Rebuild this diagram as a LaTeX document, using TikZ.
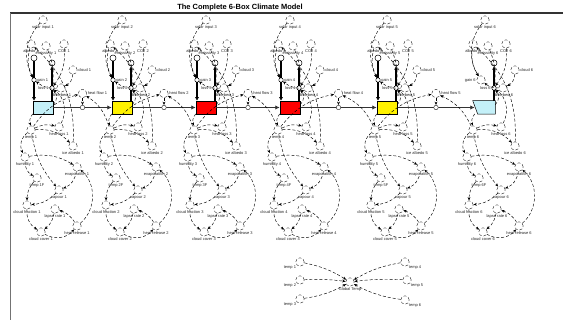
\documentclass[tikz,border=0pt]{standalone}
\usepackage{fontspec}
\setmainfont{Liberation Sans}
\usetikzlibrary{arrows.meta,calc}

\definecolor{boxcyan}{RGB}{196,240,248}

\tikzset{
  aux/.style={circle, draw=black!80, densely dashed, line width=0.45pt, minimum size=8.5pt, inner sep=0pt},
  lbl/.style={font=\fontsize{4}{4}\selectfont, inner sep=0.6pt, text=black!85, solid},
  link/.style={densely dashed, line width=0.45pt, -{Stealth[length=3.4pt,width=2.8pt]}},
  pipe/.style={line width=1.6pt, -{Latex[length=3.5pt,width=4pt]}},
  flowline/.style={line width=1.1pt, black!80, -{Latex[length=4.5pt,width=4.5pt]}},
  stock/.style={draw, line width=0.5pt, minimum width=20pt, minimum height=13pt, inner sep=0pt},
  src/.style={circle, draw, line width=0.5pt, minimum size=6pt, inner sep=0pt, fill=white},
  valve/.style={circle, draw, fill=white, line width=0.45pt, minimum size=4.5pt, inner sep=0pt}
}

\begin{document}
\begin{tikzpicture}[x=1pt, y=-1pt]
\useasboundingbox (0,0) rectangle (563,320);
% title and frame
\node[font=\bfseries\fontsize{7.5}{8}\selectfont] (title) at (240,8) {The Complete 6-Box Climate Model};
\draw[line width=1.4pt, black!80] (10,13) -- (563,13);
\draw[line width=0.8pt, black!55] (10,13) -- (10,320);

% one sector per box
\foreach \bx/\k/\col in {33/1/boxcyan, 112/2/yellow, 196/3/red, 280/4/red, 377/5/yellow, 475/6/boxcyan}{
  \ifnum\k<6
    \node[stock, fill=\col] (box\k) at (\bx+10,107.5) {};
  \else
    \node[stock, draw=none] (box\k) at (\bx+10,107.5) {};
    \draw[fill=\col, line width=0.5pt] ($(box\k.north west)+(-2,0)$) -- (box\k.north east)
      -- (box\k.south east) -- ($(box\k.south west)+(3,0)$) -- cycle;
  \fi
  % inputs above the stock
  \node[aux, label={[lbl]below:solar input \k}] (sun\k) at (\bx+10,20) {};
  \node[aux, label={[lbl]below:albedo \k}] (alb\k) at (\bx-2,44) {};
  \node[aux, label={[lbl]below:emissivity \k}] (emi\k) at (\bx+13,46) {};
  \node[aux, label={[lbl]below:CO2 \k}] (co\k) at (\bx+31,44) {};
  \node[aux, label={[lbl]right:cloud \k}] (cld\k) at (\bx+40,70) {};
  \node[aux, label={[lbl]below:absorbed \k}] (absb\k) at (\bx+28,88) {};
  \ifnum\k<6
    \node[src] (in\k) at (\bx+1,58) {};
    \node[valve, label={[lbl]right:gain \k}] (vin\k) at (\bx+1,80) {};
    \draw[pipe] (in\k) -- (vin\k) -- (in\k |- box\k.north);
  \else
    \node[aux, label={[lbl]left:gain \k}] (vin\k) at (\bx+6,80) {};
  \fi
  \node[src] (out\k) at (\bx+19,63) {};
  \node[valve, label={[lbl]left:loss \k}] (vout\k) at (\bx+19,88) {};
  \draw[pipe] (box\k.north -| out\k) -- (vout\k) -- (out\k);
  \draw[link] (sun\k) to[bend right=35] (vin\k);
  \draw[link] (alb\k) to[bend right=20] (vin\k);
  \draw[link] (emi\k) to[bend left=15] (vout\k);
  \draw[link] (co\k) to[bend left=20] (vout\k);
  \draw[link] (cld\k) to[bend left=30] (absb\k);
  \draw[link] (absb\k) to[bend left=20] (vin\k);
  \draw[link] (box\k) to[bend right=50] (vout\k);
  % feedbacks below the stock
  \node[aux, label={[lbl]below:temp \k}] (temp\k) at (\bx-2,130) {};
  \node[aux, label={[lbl]below:heat loss \k}] (hl\k) at (\bx+26,127) {};
  \node[aux, label={[lbl]below:ice albedo \k}] (ice\k) at (\bx+40,146) {};
  \node[aux, label={[lbl]below:humidity \k}] (hum\k) at (\bx-8,157) {};
  \node[aux, label={[lbl]below:evaporation \k}] (evap\k) at (\bx+44,167) {};
  \node[aux, label={[lbl]below:temp \k F}] (tf\k) at (\bx+4,178) {};
  \node[aux, label={[lbl]below:vapour \k}] (vap\k) at (\bx+26,190) {};
  \node[aux, label={[lbl]below:cloud fraction \k}] (cf\k) at (\bx-6,205) {};
  \node[aux, label={[lbl]below:lapse rate \k}] (lr\k) at (\bx+22,209) {};
  \node[aux, label={[lbl]below:cloud cover \k}] (cc\k) at (\bx+8,232) {};
  \node[aux, label={[lbl]below:heat release \k}] (rel\k) at (\bx+44,226) {};
  \draw[link] (box\k) to[bend right=30] (temp\k);
  \draw[link] (temp\k) to[bend left=20] (hl\k);
  \draw[link] (hl\k) to[bend right=40] (vout\k);
  \draw[link] (temp\k) to[bend right=40] (hum\k);
  \draw[link] (temp\k) to[bend left=25] (ice\k);
  \draw[link] (ice\k) to[bend right=25] (alb\k);
  \draw[link] (hum\k) to[bend right=30] (tf\k);
  \draw[link] (hum\k) to[bend left=20] (evap\k);
  \draw[link] (evap\k) to[bend left=30] (vap\k);
  \draw[link] (tf\k) to[bend right=20] (cf\k);
  \draw[link] (vap\k) to[bend left=20] (cf\k);
  \draw[link] (cf\k) to[bend right=30] (cc\k);
  \draw[link] (lr\k) to[bend left=20] (cc\k);
  \draw[link] (rel\k) to[bend right=20] (lr\k);
  \draw[link] (cc\k) to[bend right=40] (rel\k);
  \draw[link] (rel\k) to[bend right=50] (evap\k);
  \draw[link] (temp\k) to[bend right=15] (vap\k);
}

% heat flows between neighbouring boxes
\foreach \a/\b in {1/2,2/3,3/4,4/5,5/6}{
  \draw[flowline] (box\a.east) -- node[valve] (hv\a) {} (box\b.west);
  \node[aux, label={[lbl]right:heat flow \a}] (hf\a) at ($(hv\a)+(0,-14)$) {};
  \draw[link] (hf\a) -- (hv\a);
  \draw[link] (temp\a) to[bend left=20] (hf\a);
  \draw[link] (temp\b) to[bend right=20] (hf\a);
}

% global mean
\node[aux, label={[lbl]below:Global Temp}] (gtemp) at (350,282) {};
\foreach \n/\x/\y/\side/\bend in {1/300/262/below left/10, 2/300/280/below left/5, 3/300/299/below left/-10,
                                  4/405/262/below right/-10, 5/407/280/below right/-5, 6/405/300/below right/10}{
  \node[aux, label={[lbl]\side:temp \n}] (gt\n) at (\x,\y) {};
  \draw[link] (gt\n) to[bend left=\bend] (gtemp);
}
\end{tikzpicture}
\end{document}
